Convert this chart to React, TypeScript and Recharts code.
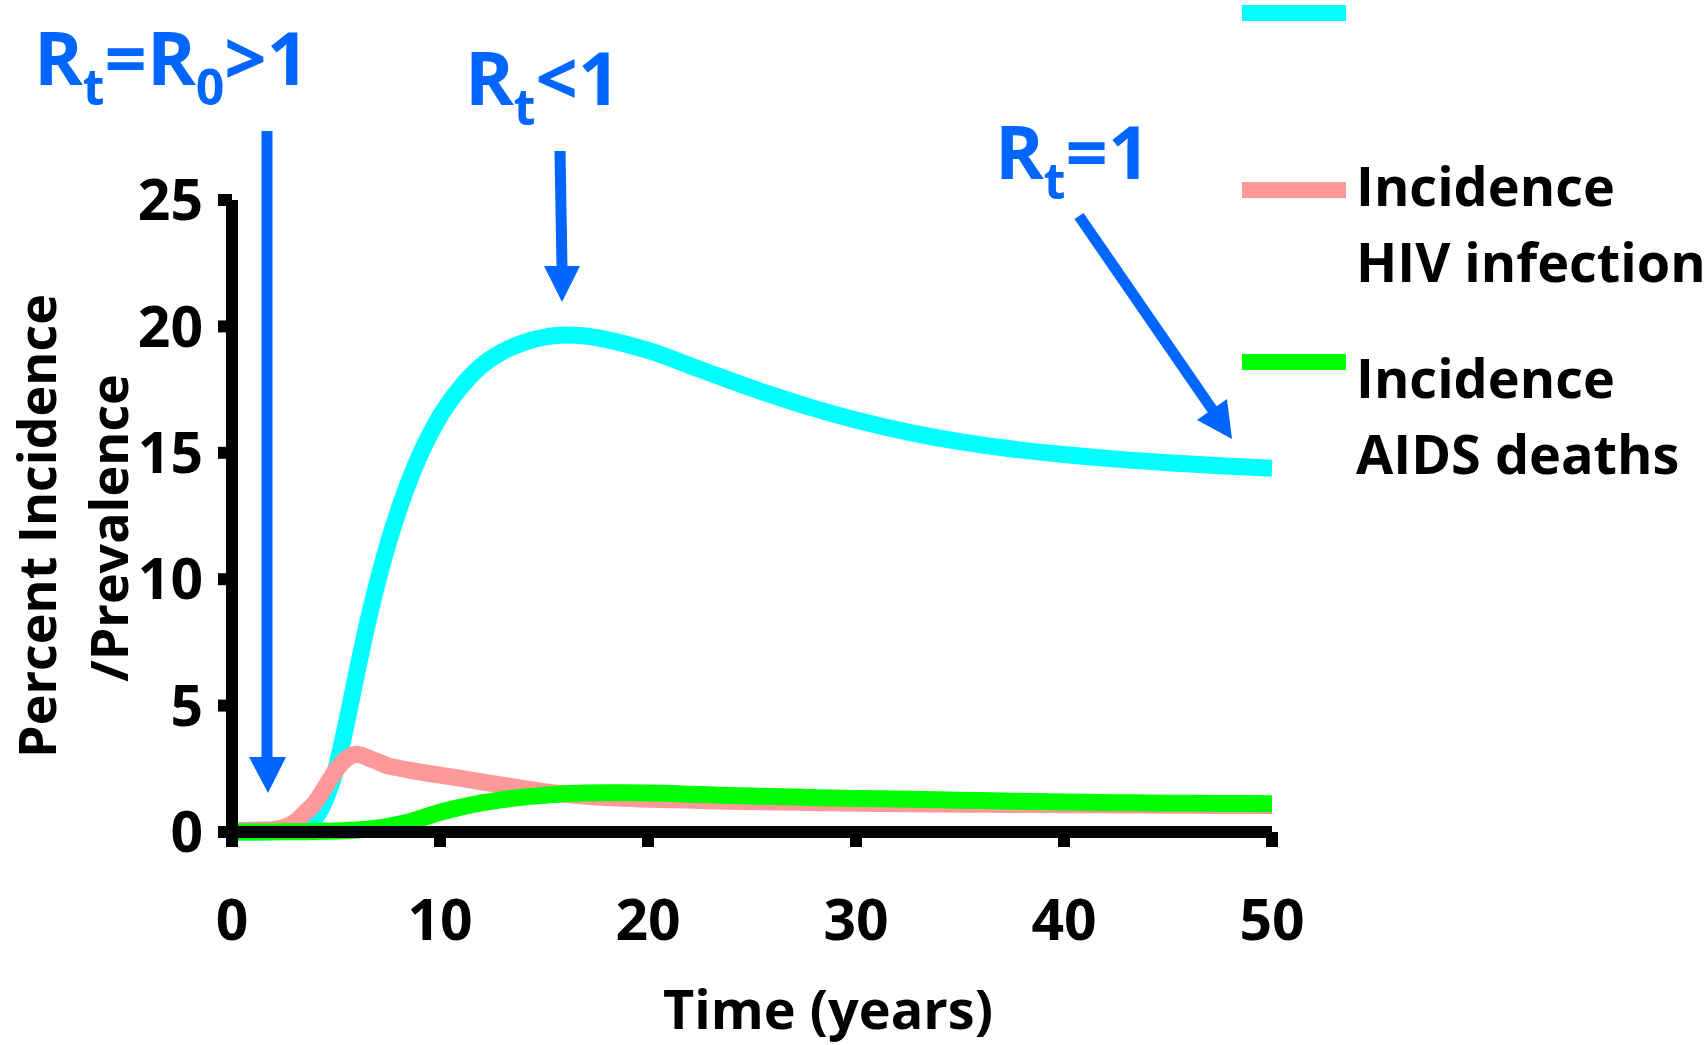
import { LineChart, Line, XAxis, YAxis } from 'recharts';

// HIV model output: prevalence / incidence (%)
const YEARS = [0, 1, 2, 3, 3.5, 4, 4.5, 5, 5.5, 6, 6.5, 7, 7.5, 8, 8.5, 9, 9.5, 10, 11, 12, 13, 14, 15, 16, 17, 18, 20, 22.5, 25, 27.5, 30, 32.5, 35, 37.5, 40, 42.5, 45, 47.5, 50];
const PREVALENCE = [0, 0, 0.02, 0.1, 0.25, 0.55, 1.3, 2.5, 4.3, 6.3, 8.2, 9.9, 11.4, 12.7, 13.85, 14.85, 15.7, 16.45, 17.6, 18.45, 19.0, 19.35, 19.57, 19.66, 19.62, 19.48, 19.05, 18.3, 17.55, 16.88, 16.3, 15.82, 15.44, 15.15, 14.93, 14.75, 14.61, 14.49, 14.39];
const INC_HIV = [0.05, 0.07, 0.1, 0.38, 0.75, 1.18, 1.8, 2.45, 2.9, 3.08, 2.95, 2.78, 2.62, 2.53, 2.45, 2.38, 2.31, 2.25, 2.12, 1.98, 1.85, 1.72, 1.6, 1.49, 1.41, 1.36, 1.3, 1.25, 1.2, 1.17, 1.14, 1.12, 1.1, 1.09, 1.08, 1.07, 1.06, 1.05, 1.05];
const INC_AIDS = [0, 0, 0, 0.01, 0.01, 0.02, 0.03, 0.04, 0.06, 0.08, 0.11, 0.16, 0.22, 0.3, 0.4, 0.52, 0.65, 0.78, 0.98, 1.15, 1.28, 1.38, 1.45, 1.51, 1.54, 1.55, 1.54, 1.48, 1.42, 1.37, 1.33, 1.3, 1.26, 1.22, 1.19, 1.16, 1.14, 1.13, 1.12];

const X_TICKS = [0, 10, 20, 30, 40, 50];
const Y_TICKS = [0, 5, 10, 15, 20, 25];

const SERIES = [
  { key: 'prev', name: 'Prevalence', color: '#00FFFF', values: PREVALENCE, label: [] as string[] },
  { key: 'hiv', name: 'Incidence HIV infection', color: '#FF9999', values: INC_HIV, label: ['Incidence', 'HIV infection'] },
  { key: 'aids', name: 'Incidence AIDS deaths', color: '#00FF00', values: INC_AIDS, label: ['Incidence', 'AIDS deaths'] },
];

const FONT = "'Open Sans', 'DejaVu Sans', sans-serif";
const BLUE = '#0066FF';

const data = YEARS.map((t, i) => {
  const row: Record<string, number> = { t };
  SERIES.forEach((s) => {
    row[s.key] = s.values[i];
  });
  return row;
});

// legend rows: line y, first text baseline
const LEGEND_POS = [
  { lineY: 13, textY: 0 },
  { lineY: 190, textY: 206 },
  { lineY: 362, textY: 398 },
];

function Rt({ x, y, rest, sub2, tail }: { x: number; y: number; rest: string; sub2?: string; tail?: string }) {
  return (
    <text x={x} y={y} fill={BLUE} fontSize={74} fontWeight={700} fontFamily={FONT}>
      R
      <tspan fontSize={50} dy={20}>t</tspan>
      <tspan fontSize={74} dy={-20}>{rest}</tspan>
      {sub2 && <tspan fontSize={50} dy={20}>{sub2}</tspan>}
      {tail && <tspan fontSize={74} dy={-20}>{tail}</tspan>}
    </text>
  );
}

export default function App() {
  const axisText = { fill: '#000', fontSize: 57, fontWeight: 700, fontFamily: FONT };
  return (
    <div style={{ position: 'absolute', left: 0, top: 0, width: 1705, height: 1045, background: '#fff', overflow: 'hidden' }}>
      <LineChart
        width={1705}
        height={1045}
        data={data}
        margin={{ top: 200, right: 433, bottom: 93, left: 32 }}
        style={{ fontFamily: FONT }}
      >
        <XAxis
          type="number"
          dataKey="t"
          domain={[0, 50]}
          ticks={X_TICKS}
          interval={0}
          height={120}
          stroke="#000"
          axisLine={{ stroke: '#000', strokeWidth: 12 }}
          tickLine={{ stroke: '#000', strokeWidth: 12 }}
          tickSize={15}
          tickMargin={53}
          tick={axisText}
        />
        <YAxis
          type="number"
          domain={[0, 25]}
          ticks={Y_TICKS}
          interval={0}
          width={200}
          stroke="#000"
          axisLine={{ stroke: '#000', strokeWidth: 12 }}
          tickLine={{ stroke: '#000', strokeWidth: 12 }}
          tickSize={14}
          tickMargin={15}
          tick={axisText}
        />
        {SERIES.map((s) => (
          <Line
            key={s.key}
            type="monotone"
            dataKey={s.key}
            name={s.name}
            stroke={s.color}
            strokeWidth={17}
            dot={false}
            activeDot={false}
            isAnimationActive={false}
          />
        ))}
      </LineChart>

      <svg
        width={1705}
        height={1045}
        style={{ position: 'absolute', left: 0, top: 0, pointerEvents: 'none' }}
      >
        {/* axis titles */}
        <text transform="translate(56,526) rotate(-90)" textAnchor="middle" fontSize={52} fontWeight={700} fontFamily={FONT} fill="#000">
          Percent Incidence
        </text>
        <text transform="translate(128,528) rotate(-90)" textAnchor="middle" fontSize={52} fontWeight={700} fontFamily={FONT} fill="#000">
          /Prevalence
        </text>
        <text x={828} y={1029} textAnchor="middle" fontSize={54} fontWeight={700} fontFamily={FONT} fill="#000">
          Time (years)
        </text>

        {/* legend */}
        {SERIES.map((s, i) => (
          <g key={s.key}>
            <line x1={1242} x2={1346} y1={LEGEND_POS[i].lineY} y2={LEGEND_POS[i].lineY} stroke={s.color} strokeWidth={16} />
            {s.label.map((l, j) => (
              <text key={l} x={1356} y={LEGEND_POS[i].textY + j * 76} fontSize={54} fontWeight={700} fontFamily={FONT} fill="#000">
                {l}
              </text>
            ))}
          </g>
        ))}

        {/* R_t annotations */}
        <Rt x={34} y={85} rest="=R" sub2="0" tail=">1" />
        <Rt x={465} y={105} rest="<1" />
        <Rt x={995} y={179} rest="=1" />

        {/* arrows */}
        <line x1={267} y1={131} x2={267} y2={760} stroke={BLUE} strokeWidth={11} />
        <polygon points="249,757 286,757 268,793" fill={BLUE} />
        <line x1={560} y1={151} x2={562} y2={268} stroke={BLUE} strokeWidth={11} />
        <polygon points="544,266 580,266 562,302" fill={BLUE} />
        <line x1={1079} y1={216} x2={1214} y2={412} stroke={BLUE} strokeWidth={11} />
        <polygon points="1197,420 1227,399 1232,439" fill={BLUE} />
      </svg>
    </div>
  );
}
